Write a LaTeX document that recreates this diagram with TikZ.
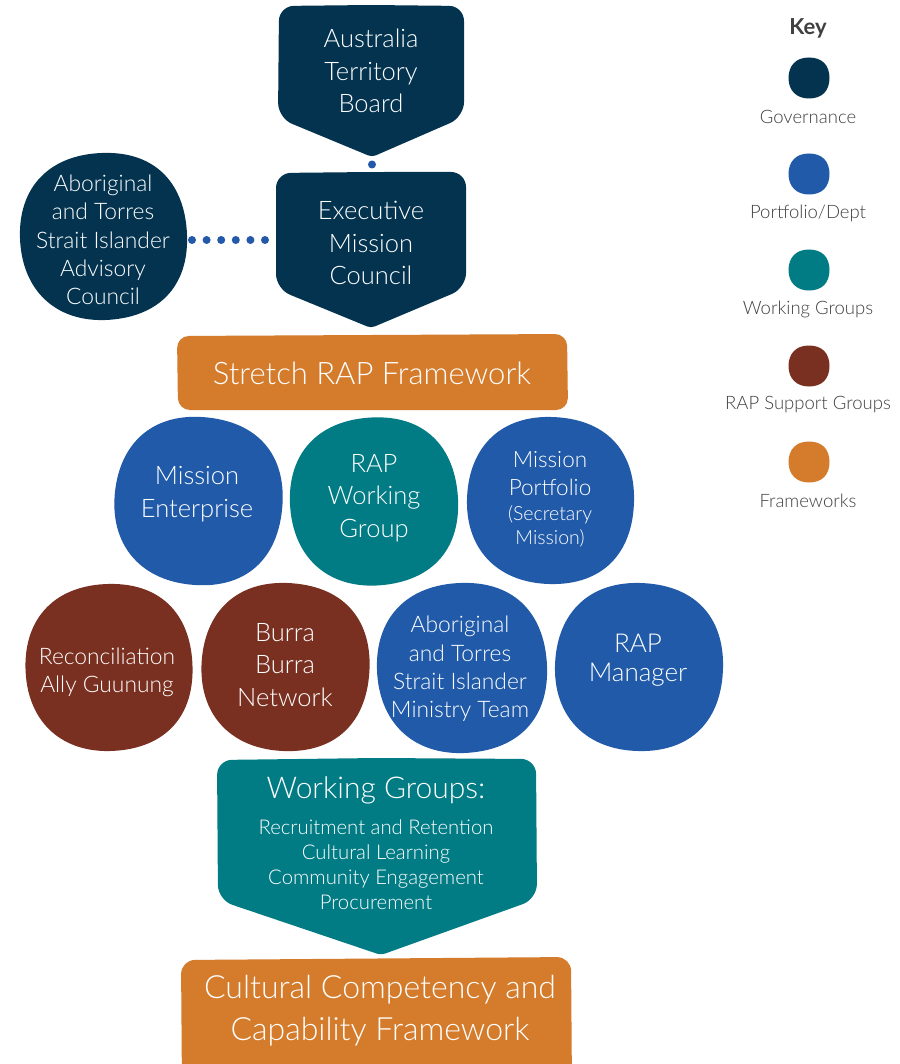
\documentclass[tikz,border=0pt]{standalone}
\usepackage{fontspec}
\setmainfont{Lato}[UprightFont=* Light, BoldFont=* Bold]
\definecolor{govc}{HTML}{03334F}
\definecolor{deptc}{HTML}{205AA8}
\definecolor{wgc}{HTML}{027C84}
\definecolor{supc}{HTML}{7A3021}
\definecolor{fwc}{HTML}{D47C2C}
\definecolor{keytxt}{HTML}{404040}
\definecolor{linkc}{HTML}{2459AA}

% rounded blob: centre x, centre y, radius, colour, tilt
\newcommand\blobshape[5]{%
  \fill[#4, shift={(#1,#2)}, rotate=#5, scale=#3]
    (1,0) .. controls (1,0.64) and (0.62,1) .. (0,1)
          .. controls (-0.6,1) and (-1,0.62) .. (-1,0)
          .. controls (-1,-0.6) and (-0.64,-1) .. (0,-1)
          .. controls (0.66,-1) and (1,-0.6) .. (1,0) -- cycle;}

\tikzset{
  lbl/.style={text=white, align=center, inner sep=0pt},
  f24/.style={font=\fontsize{25.5}{32.5}\selectfont},
  f21/.style={font=\fontsize{22.8}{28.3}\selectfont},
  keylbl/.style={text=keytxt, align=center, inner sep=0pt, font=\fontsize{18.5}{20}\selectfont},
  linkdot/.style={circle, fill=linkc, inner sep=0pt, minimum size=8pt},
  dotline/.style={draw=linkc, line width=8pt, line cap=round, dash pattern=on 0pt off 14.6pt},
}

\begin{document}
\begin{tikzpicture}[x=1pt, y=-1pt]
\clip (0,0) rectangle (899,1064);
\fill[white] (0,0) rectangle (899,1064);

% ---------- governance ----------
\fill[govc, rounded corners=15] (371,5) -- (464,6) -- (464,117)
  [rounded corners=4] -- (372,157) [rounded corners=15] -- (278,118) -- (279,6) -- cycle;
\fill[govc, rounded corners=15] (371,172) -- (466,172) -- (466,288)
  [rounded corners=4] -- (371,328) [rounded corners=15] -- (276,289) -- (276,173) -- cycle;
\blobshape{103.5}{236.5}{83.5}{govc}{4}

\coordinate (atb-tip) at (372,157);
\coordinate (emc-top) at (372,172);
\coordinate (adv-e) at (187,240);
\coordinate (emc-w) at (276,240);

\node[lbl, f24] (atb) at (371,71) {Australia\\Territory\\Board};
\node[lbl, f24] (emc) at (371,243) {Executive\\Mission\\Council};
\node[lbl, f21] (adv) at (103,240) {Aboriginal\\and Torres\\Strait Islander\\Advisory\\Council};

\path (atb-tip) -- node[linkdot] (mid) {} (emc-top);
\draw[dotline, shorten <=5pt, shorten >=11pt] (adv-e) -- (emc-w);

% ---------- stretch framework ----------
\fill[fwc, rounded corners=12] (177,336) -- (567,334) -- (568,410) -- (178,410) -- cycle;
\node[lbl, font=\fontsize{31}{34}\selectfont] (srf) at (372,373) {Stretch RAP Framework};

% ---------- first row ----------
\blobshape{198.5}{501}{84}{deptc}{-6}
\blobshape{374}{501.5}{84}{wgc}{5}
\blobshape{550.5}{500.5}{83.5}{deptc}{-3}
\node[lbl, f24] (me) at (197,494) {Mission\\Enterprise};
\node[lbl, f24] (rwg) at (374,498) {RAP\\Working\\Group};
\node[lbl, font=\fontsize{22.5}{28}\selectfont] (mp) at (550,474) {Mission\\Portfolio};
\node[lbl, font=\fontsize{19.5}{24}\selectfont] (mps) at (550,526) {(Secretary\\Mission)};

% ---------- second row ----------
\blobshape{109}{667.5}{83.5}{supc}{3}
\blobshape{285.5}{667}{84}{supc}{-4}
\blobshape{462}{668}{85}{deptc}{4}
\blobshape{639}{667}{84}{deptc}{-3}
\node[lbl, f21] (rag) at (107,672) {Reconciliation\\Ally Guunung};
\node[lbl, f24] (bbn) at (285,665) {Burra\\Burra\\Network};
\node[lbl, f21] (atsi) at (460,669) {Aboriginal\\and Torres\\Strait Islander\\Ministry Team};
\node[lbl, font=\fontsize{26}{28.5}\selectfont] (rapm) at (638,660) {RAP\\Manager};

% ---------- working groups ----------
\fill[wgc, rounded corners=15] (377,758) -- (536,759) -- (537,899)
  [rounded corners=4] -- (381,955) [rounded corners=15] -- (218,900) -- (217,760) -- cycle;
\node[lbl, font=\fontsize{30}{34}\selectfont] (wg) at (376,790) {Working Groups:};
\node[lbl, font=\fontsize{20.3}{25}\selectfont] (wgl) at (376,865)
  {Recruitment and Retention\\Cultural Learning\\Community Engagement\\Procurement};

% ---------- capability framework ----------
\fill[fwc, rounded corners=14] (181,960) -- (571,957) -- (572,1090) -- (182,1090) -- cycle;
\node[lbl, font=\fontsize{32}{42}\selectfont] (ccf) at (380,1011)
  {Cultural Competency and\\Capability Framework};

% ---------- key ----------
\node[text=keytxt, inner sep=0pt, font=\bfseries\fontsize{22}{26}\selectfont] (key) at (808,28) {Key};
\blobshape{809}{78}{20.5}{govc}{0}
\blobshape{809}{174}{20.5}{deptc}{0}
\blobshape{809}{270}{20.5}{wgc}{0}
\blobshape{809}{366}{20.5}{supc}{0}
\blobshape{809}{462}{20.5}{fwc}{0}
\node[keylbl] (k1) at (808,117) {Governance};
\node[keylbl] (k2) at (808,213) {Portfolio/Dept};
\node[keylbl] (k3) at (808,309) {Working Groups};
\node[keylbl] (k4) at (808,405) {RAP Support Groups};
\node[keylbl] (k5) at (808,501) {Frameworks};
\end{tikzpicture}
\end{document}
